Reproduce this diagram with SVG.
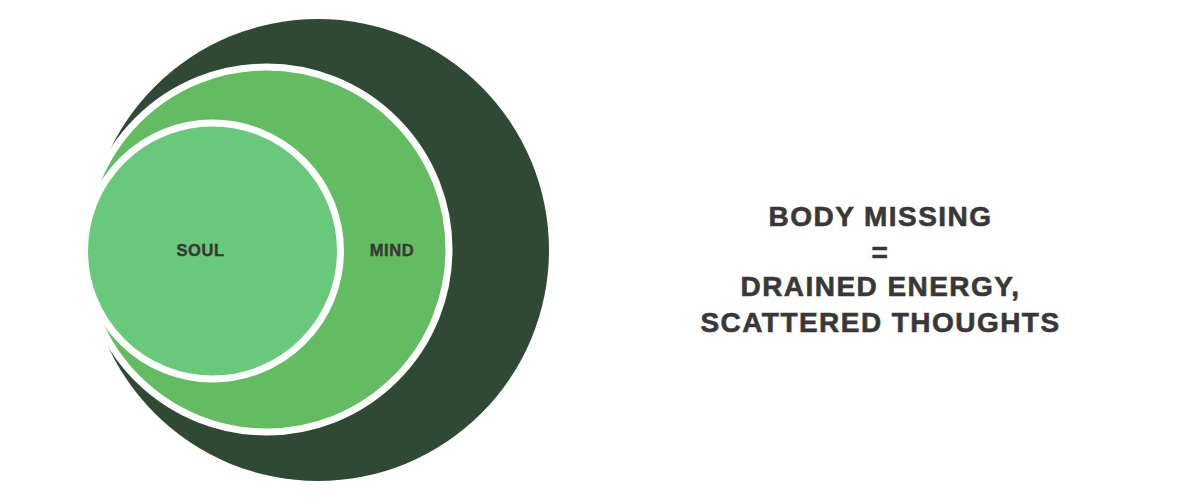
<svg xmlns="http://www.w3.org/2000/svg" width="1200" height="500" viewBox="0 0 1200 500">
  <style>
    .ring { stroke: #ffffff; stroke-width: 7; }
    .label { font-family: "Liberation Sans", Arial, sans-serif; font-weight: bold; fill: #383838; stroke: #383838; text-anchor: middle; }
    .small { font-size: 16.5px; letter-spacing: 0.6px; stroke-width: 0.4px; }
    .big { font-size: 28px; letter-spacing: 1.45px; stroke-width: 0.6px; }
  </style>
  <rect width="1200" height="500" fill="#ffffff"/>
  <g id="body">
    <circle cx="318" cy="250" r="231" fill="#304934"/>
  </g>
  <g id="mind">
    <circle class="ring" cx="266.5" cy="249.5" r="182.5" fill="#63bc62"/>
    <text class="label small" x="392" y="256">MIND</text>
  </g>
  <g id="soul">
    <circle class="ring" cx="212.5" cy="251" r="128" fill="#68c97a"/>
    <text class="label small" x="200.5" y="256">SOUL</text>
  </g>
  <g id="connectors"/>
  <g id="caption">
    <text class="label big" x="880.5" y="226">BODY MISSING</text>
    <text class="label big" x="880.5" y="262">=</text>
    <text class="label big" x="880.5" y="296">DRAINED ENERGY,</text>
    <text class="label big" x="880.5" y="332">SCATTERED THOUGHTS</text>
  </g>
</svg>
